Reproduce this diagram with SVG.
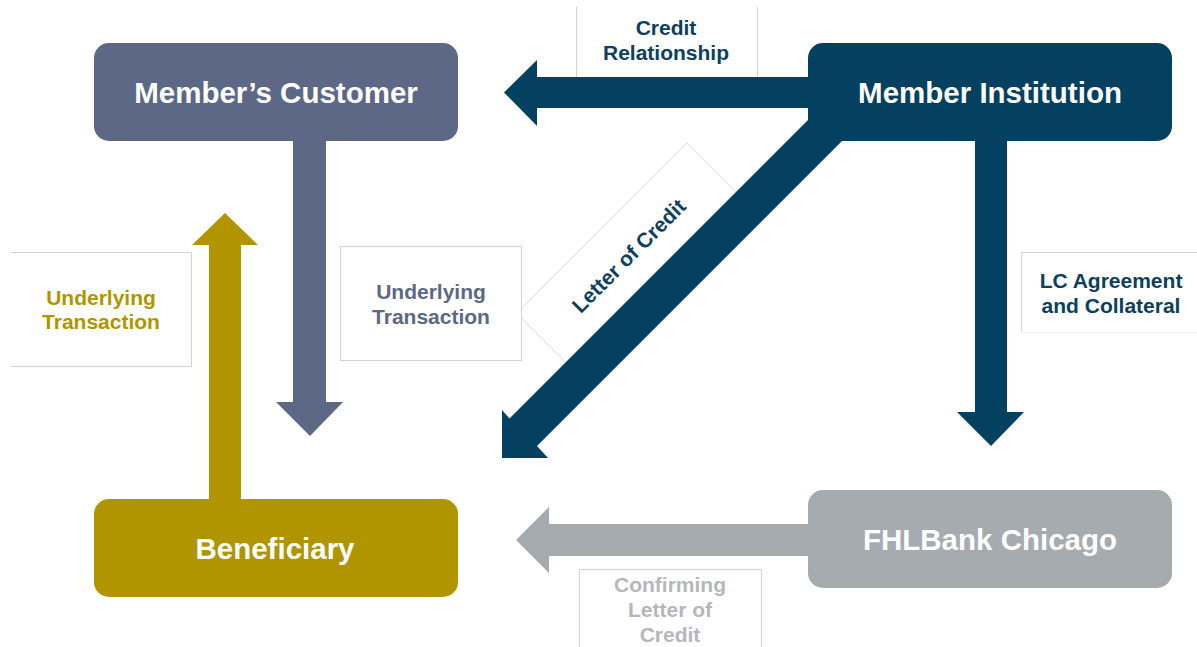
<svg xmlns="http://www.w3.org/2000/svg" width="1197" height="647" viewBox="0 0 1197 647">
  <style>
    .node-text { font-family: "Liberation Sans", Arial, sans-serif; font-weight: bold; font-size: 29.5px; fill: #ffffff; text-anchor: middle; }
    .lbl { font-family: "Liberation Sans", Arial, sans-serif; font-weight: bold; font-size: 21px; text-anchor: middle; }
    .box { fill: #ffffff; stroke: #d3d3d3; stroke-width: 1; }
    .edge { fill: none; stroke: #d3d3d3; stroke-width: 1; }
  </style>
  <rect width="1197" height="647" fill="#ffffff"/>

  <!-- label boxes and labels -->
  <g id="labels">
    <g id="label-credit-relationship">
      <path class="edge" d="M576.5 7V77M757.5 7V77"/>
      <text class="lbl" fill="#0c4060" x="666" y="35">Credit</text>
      <text class="lbl" fill="#0c4060" x="666" y="60">Relationship</text>
    </g>
    <g id="label-letter-of-credit" transform="translate(629 256) rotate(-45)">
      <rect x="-120" y="-39" width="241" height="80" fill="#ffffff" stroke="#e2e2e2" stroke-width="1"/>
      <text class="lbl" fill="#0c4060" x="0" y="7">Letter of Credit</text>
    </g>
    <g id="label-underlying-slate">
      <rect class="box" x="340.5" y="246.5" width="181" height="114"/>
      <text class="lbl" fill="#5d6886" x="431" y="299">Underlying</text>
      <text class="lbl" fill="#5d6886" x="431" y="324">Transaction</text>
    </g>
    <g id="label-underlying-gold">
      <path class="edge" d="M11 252.5H191.5V366.5H11"/>
      <text class="lbl" fill="#b19500" x="101" y="305">Underlying</text>
      <text class="lbl" fill="#b19500" x="101" y="329">Transaction</text>
    </g>
    <g id="label-lc-agreement">
      <path class="edge" d="M1197 252.5H1021.5V332"/>
      <path d="M1021.5 332.5H1197" stroke="#efefef" stroke-width="1"/>
      <text class="lbl" fill="#0c4060" x="1111" y="288">LC Agreement</text>
      <text class="lbl" fill="#0c4060" x="1111" y="313">and Collateral</text>
    </g>
    <g id="label-confirming">
      <path class="edge" d="M579.5 660V569.5H761.5V660"/>
      <text class="lbl" fill="#b4b8bb" x="670" y="592">Confirming</text>
      <text class="lbl" fill="#b4b8bb" x="670" y="617">Letter of</text>
      <text class="lbl" fill="#b4b8bb" x="670" y="642">Credit</text>
    </g>
  </g>

  <!-- connectors: block arrows -->
  <g id="connectors">
    <!-- Member Institution to Member's Customer -->
    <polygon fill="#04405f" points="830,77 537,77 537,60 504,92.5 537,126 537,108 830,108"/>
    <!-- Member Institution to Beneficiary (diagonal) -->
    <polygon fill="#04405f" points="830,98 509.5,418.5 502,410 502,458 548,458 537,446 885,98"/>
    <!-- Member Institution to FHLBank Chicago -->
    <polygon fill="#04405f" points="975,130 975,412 957,412 991,446 1024,412 1007,412 1007,130"/>
    <!-- Member's Customer to Beneficiary -->
    <polygon fill="#5d6886" points="293,130 293,402 276,402 310,436 343,402 326,402 326,130"/>
    <!-- Beneficiary to Member's Customer -->
    <polygon fill="#b19500" points="209,510 209,245 192,245 225,213 258,245 241,245 241,510"/>
    <!-- FHLBank Chicago to Beneficiary -->
    <polygon fill="#a5abae" points="830,524 549,524 549,507 516,540 549,573 549,556 830,556"/>
  </g>

  <!-- nodes -->
  <g id="node-members-customer">
    <rect x="94" y="43" width="364" height="98" rx="15" fill="#5d6886"/>
    <text class="node-text" x="276" y="103">Member’s Customer</text>
  </g>
  <g id="node-member-institution">
    <rect x="808" y="43" width="364" height="98" rx="15" fill="#04405f"/>
    <text class="node-text" x="990" y="103">Member Institution</text>
  </g>
  <g id="node-beneficiary">
    <rect x="94" y="499" width="364" height="98" rx="15" fill="#b19500"/>
    <text class="node-text" x="275" y="559">Beneficiary</text>
  </g>
  <g id="node-fhlbank">
    <rect x="808" y="490" width="364" height="98" rx="15" fill="#a5abae"/>
    <text class="node-text" x="990" y="550">FHLBank Chicago</text>
  </g>
</svg>
